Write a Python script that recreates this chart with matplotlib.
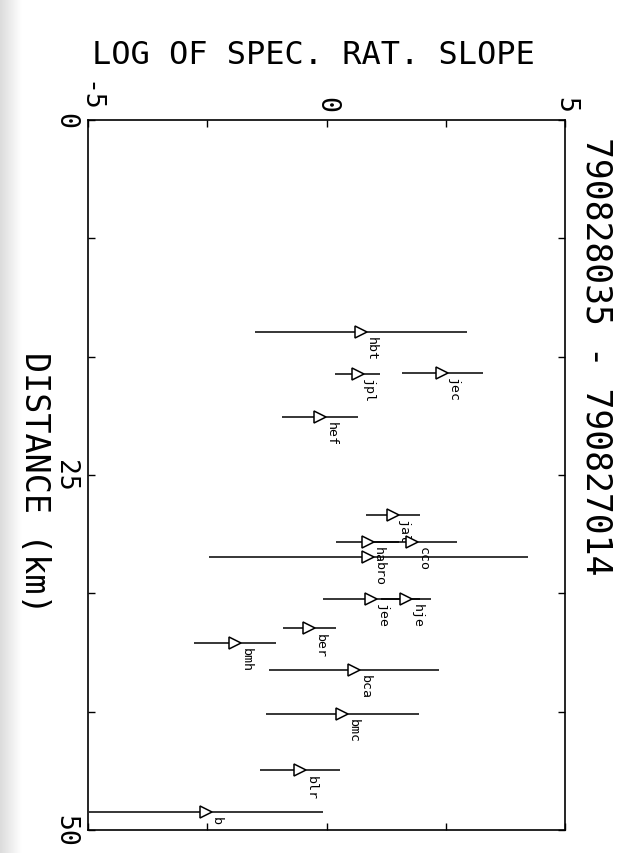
import matplotlib
matplotlib.use("Agg")
import matplotlib.pyplot as plt
import numpy as np

# station data
stations = ['hbt', 'jpl', 'jec', 'hef', 'jal', 'ha', 'cco', 'bro',
            'jee', 'hje', 'ber', 'bmh', 'bca', 'bmc', 'blr', 'b']
distance = [14.9, 17.9, 17.8, 20.9, 27.8, 29.7, 29.7, 30.75,
            33.75, 33.75, 35.8, 36.85, 38.7, 41.8, 45.8, 48.75]
log_slope = [0.72, 0.65, 2.43, -0.13, 1.39, 0.86, 1.80, 0.88,
             0.94, 1.67, -0.36, -1.91, 0.58, 0.33, -0.55, -2.53]
slope_err = [2.22, 0.47, 0.85, 0.80, 0.57, 0.67, 0.93, 3.35,
             1.01, 0.52, 0.56, 0.86, 1.78, 1.60, 0.84, 2.45]

slope_ticks = [-5, -2.5, 0, 2.5, 5]
slope_labels = ['-5', '', '0', '', '5']
dist_ticks = [0, 25/3, 50/3, 25, 100/3, 125/3, 50]
dist_labels = ['0', '', '', '25', '', '', '50']

title = '790828035 - 790827014'

plt.rcParams['font.family'] = 'DejaVu Sans Mono'

fig = plt.figure(figsize=(6.35, 8.54), dpi=100)

# faint grey edge of the scanned page
edge = fig.add_axes([0, 0, 22/635, 1])
edge.imshow(np.linspace(0.86, 1.0, 50)[None, :], cmap='gray', vmin=0, vmax=1,
            aspect='auto', extent=[0, 1, 0, 1])
edge.axis('off')

# the page is scanned sideways: slope runs across, distance runs down
ax = fig.add_axes([88/635, 1 - 831/854, 477/635, 710/854])

ax.errorbar(log_slope, distance, xerr=slope_err, fmt='>', ms=8.5,
            mfc='white', mec='black', mew=1.1, ecolor='black',
            elinewidth=1.1, capsize=0, zorder=3)
for s, d, name in zip(log_slope, distance, stations):
    ax.annotate(name, (s, d), xytext=(3, -3), textcoords='offset points',
                rotation=-90, ha='left', va='top', fontsize=9.5)

ax.set_xlim(-5, 5)
ax.set_ylim(50, 0)
ax.set_xticks(slope_ticks)
ax.set_xticklabels(slope_labels)
ax.set_yticks(dist_ticks)
ax.set_yticklabels(dist_labels)
ax.tick_params(axis='x', top=True, bottom=True, labeltop=True, labelbottom=False,
               direction='in', length=5, width=1, pad=6, labelsize=19, labelrotation=-90)
ax.tick_params(axis='y', left=True, right=True, direction='in', length=5,
               width=1, pad=7, labelsize=19, labelrotation=-90)
for lbl in ax.get_yticklabels():
    lbl.set_va('center')
for sp in ax.spines.values():
    sp.set_linewidth(1.2)

fig.text(313/635, 1 - 55/854, 'LOG OF SPEC. RAT. SLOPE', ha='center',
         va='center', fontsize=23)
fig.text(34/635, 1 - 483/854, 'DISTANCE (km)', rotation=-90, ha='center',
         va='center', fontsize=24)
fig.text(596/635, 1 - 356/854, title, rotation=-90, ha='center',
         va='center', fontsize=25)

fig.savefig('out.png', dpi=100)
